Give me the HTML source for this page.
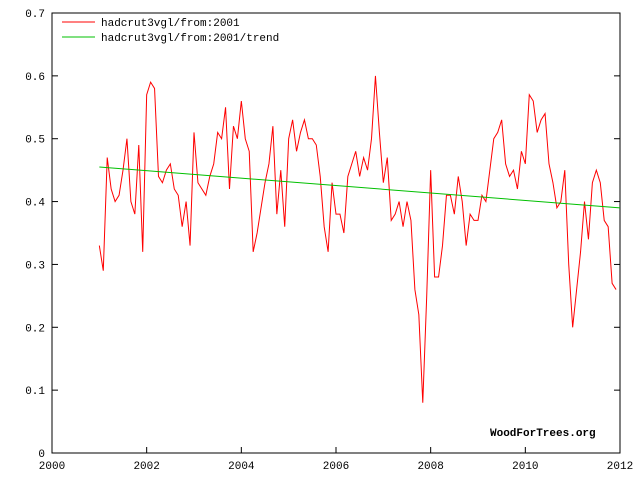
<!DOCTYPE html>
<html><head><meta charset="utf-8"><style>
body{margin:0;background:#fff;}
svg{display:block;font-family:"Liberation Mono","DejaVu Sans Mono",monospace;}
</style></head><body>
<svg id="chart" width="640" height="480">
<rect x="52" y="13" width="568" height="440" fill="#fff" stroke="#000"/>
<g id="axes"></g>
<polyline id="series" fill="none" stroke="#ff0000" stroke-width="1"/>
<line id="trend" stroke="#00c000" stroke-width="1"/>
<g>
<line x1="62" y1="22" x2="95" y2="22" stroke="#ff0000"/>
<text x="101" y="26" font-size="11">hadcrut3vgl/from:2001</text>
<line x1="62" y1="37" x2="95" y2="37" stroke="#00c000"/>
<text x="101" y="41" font-size="11">hadcrut3vgl/from:2001/trend</text>
</g>
<text x="490" y="436" font-size="11" font-weight="bold">WoodForTrees.org</text>
</svg>
<script>
const xTicks=[2000,2002,2004,2006,2008,2010,2012];
const yTicks=[0,0.1,0.2,0.3,0.4,0.5,0.6,0.7];
const startYear=2001;
const values=[
0.33,0.29,0.47,0.42,0.40,0.41,0.45,0.50,0.40,0.38,0.49,0.32,
0.57,0.59,0.58,0.44,0.43,0.45,0.46,0.42,0.41,0.36,0.40,0.33,
0.51,0.43,0.42,0.41,0.44,0.46,0.51,0.50,0.55,0.42,0.52,0.50,
0.56,0.50,0.48,0.32,0.35,0.39,0.43,0.46,0.52,0.38,0.45,0.36,
0.50,0.53,0.48,0.51,0.53,0.50,0.50,0.49,0.44,0.36,0.32,0.43,
0.38,0.38,0.35,0.44,0.46,0.48,0.44,0.47,0.45,0.50,0.60,0.51,
0.43,0.47,0.37,0.38,0.40,0.36,0.40,0.37,0.26,0.22,0.08,0.25,
0.45,0.28,0.28,0.33,0.41,0.41,0.38,0.44,0.40,0.33,0.38,0.37,
0.37,0.41,0.40,0.45,0.50,0.51,0.53,0.46,0.44,0.45,0.42,0.48,
0.46,0.57,0.56,0.51,0.53,0.54,0.46,0.43,0.39,0.40,0.45,0.30,
0.20,0.26,0.32,0.40,0.34,0.43,0.45,0.43,0.37,0.36,0.27,0.26];
const trendStart=[2001,0.455];
const trendEnd=[2012,0.39];
const X=t=>52+(t-2000)*(568/12);
const Y=v=>453-v*(440/0.7);
const ns="http://www.w3.org/2000/svg";
const ax=document.getElementById('axes');
xTicks.forEach(t=>{
 const l=document.createElementNS(ns,'line');
 l.setAttribute('x1',X(t));l.setAttribute('x2',X(t));l.setAttribute('y1',453);l.setAttribute('y2',447);l.setAttribute('stroke','#000');
 
 
 ax.appendChild(l);
 const s=document.createElementNS(ns,'text');
 s.setAttribute('x',X(t));s.setAttribute('y',469);s.setAttribute('text-anchor','middle');s.setAttribute('font-size','11');
 s.textContent=t;
 
 
 ax.appendChild(s);
});
yTicks.forEach(v=>{
 [[52,58],[614,620]].forEach(p=>{
 const l=document.createElementNS(ns,'line');
 l.setAttribute('x1',p[0]);l.setAttribute('x2',p[1]);l.setAttribute('y1',Y(v));l.setAttribute('y2',Y(v));l.setAttribute('stroke','#000');
 
 
 ax.appendChild(l);});
 const s=document.createElementNS(ns,'text');
 s.setAttribute('x',45);s.setAttribute('y',Y(v)+4);s.setAttribute('text-anchor','end');s.setAttribute('font-size','11');
 s.textContent=v===0?'0':v.toFixed(1);
 
 
 ax.appendChild(s);
});
document.getElementById('series').setAttribute('points',values.map((v,i)=>X(startYear+i/12)+','+Y(v)).join(' '));
const tr=document.getElementById('trend');
tr.setAttribute('x1',X(trendStart[0]));tr.setAttribute('y1',Y(trendStart[1]));
tr.setAttribute('x2',X(trendEnd[0]));tr.setAttribute('y2',Y(trendEnd[1]));
</script>
</body></html>
